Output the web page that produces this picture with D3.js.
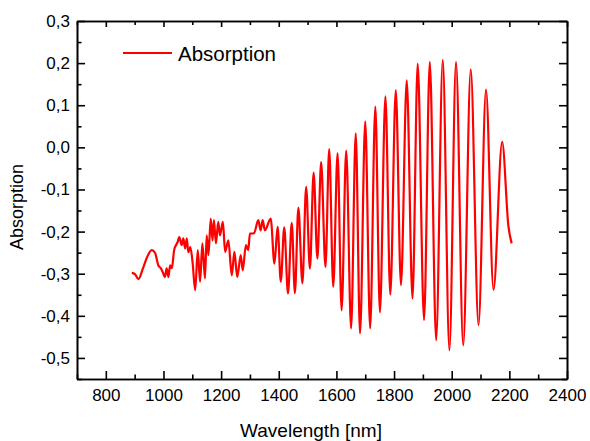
<!DOCTYPE html>
<html>
<head>
<meta charset="utf-8">
<script src="https://cdn.jsdelivr.net/npm/d3@7"></script>
<style>
    body { margin: 0; background: #fff; }
    text { font-family: "Liberation Sans", Arial, sans-serif; fill: #000; }
    .axis path, .axis line { stroke: #000; stroke-width: 1.6; }
    .axis text { font-size: 17px; }
    .axisTitle { font-size: 18px; }
    .xTitle { font-size: 19px; }
    .legendText { font-size: 20.5px; }
</style>
</head>
<body>
<div id="chart"></div>
<script>

// values (wavelength in nm, absorption)
var wavelength = [890, 901, 913, 929, 943, 959, 971, 982, 991, 999, 1005, 1011, 1017, 1023, 1029, 1037,
    1049, 1055, 1063, 1069, 1075, 1081, 1086, 1093, 1101, 1110, 1119, 1127, 1135, 1144, 1150, 1156,
    1164, 1170, 1175, 1182, 1190, 1196, 1206, 1214, 1225, 1237, 1246, 1256, 1268, 1275, 1286, 1294,
    1300, 1314, 1329, 1337, 1344, 1352, 1372, 1385, 1396, 1407, 1419, 1432, 1445, 1456, 1468, 1482,
    1495, 1508, 1521, 1534, 1547, 1562, 1575, 1589, 1604, 1618, 1634, 1651, 1667, 1682, 1700, 1717,
    1735, 1751, 1770, 1787, 1806, 1824, 1844, 1864, 1882, 1904, 1924, 1946, 1969, 1992, 2015, 2040,
    2066, 2093, 2119, 2145, 2175, 2197, 2208];

var absorption = [-0.298, -0.301, -0.313, -0.287, -0.261, -0.244, -0.251, -0.280, -0.287, -0.299, -0.308, -0.287, -0.308, -0.280, -0.287, -0.244,
    -0.225, -0.213, -0.232, -0.216, -0.240, -0.216, -0.249, -0.237, -0.273, -0.339, -0.244, -0.319, -0.228, -0.311, -0.209, -0.256,
    -0.169, -0.221, -0.173, -0.228, -0.177, -0.209, -0.177, -0.248, -0.221, -0.304, -0.248, -0.308, -0.256, -0.292, -0.232, -0.244,
    -0.205, -0.204, -0.173, -0.197, -0.173, -0.197, -0.169, -0.276, -0.189, -0.319, -0.190, -0.347, -0.179, -0.346, -0.143, -0.323,
    -0.094, -0.288, -0.060, -0.264, -0.035, -0.284, -0.004, -0.331, -0.014, -0.387, -0.008, -0.430, 0.033, -0.442, 0.062, -0.430,
    0.097, -0.392, 0.121, -0.350, 0.136, -0.327, 0.159, -0.359, 0.199, -0.410, 0.203, -0.458, 0.208, -0.482, 0.203, -0.470,
    0.185, -0.422, 0.137, -0.338, 0.013, -0.189, -0.228];

var xMajorTicks = [800, 1000, 1200, 1400, 1600, 1800, 2000, 2200, 2400];
var xMinorTicks = [700, 900, 1100, 1300, 1500, 1700, 1900, 2100, 2300];
var yMajorTicks = [-0.5, -0.4, -0.3, -0.2, -0.1, 0.0, 0.1, 0.2, 0.3];
var yMinorTicks = [-0.55, -0.45, -0.35, -0.25, -0.15, -0.05, 0.05, 0.15, 0.25];
var yTickLabels = ["-0,5", "-0,4", "-0,3", "-0,2", "-0,1", "0,0", "0,1", "0,2", "0,3"];

/**
 * Constructor for the absorption spectrum chart
 */
function AbsorptionChart(){
    var self = this;
    self.init();
}

/**
 * Sets up the svg and the scales
 */
AbsorptionChart.prototype.init = function(){
    var self = this;
    self.margin = {top: 21, right: 23, bottom: 62, left: 77};
    self.svgWidth = 590;
    self.svgHeight = 441;
    self.width = self.svgWidth - self.margin.left - self.margin.right;
    self.height = self.svgHeight - self.margin.top - self.margin.bottom;

    self.svg = d3.select("#chart").append("svg")
        .attr("width", self.svgWidth)
        .attr("height", self.svgHeight);

    self.xScale = d3.scaleLinear()
        .domain([700, 2400])
        .range([0, self.width]);

    self.yScale = d3.scaleLinear()
        .domain([-0.55, 0.3])
        .range([self.height, 0]);

    self.g = self.svg.append("g")
        .attr("transform", "translate(" + self.margin.left + "," + self.margin.top + ")");
};

/**
 * Draws the frame, ticks, curve and legend
 */
AbsorptionChart.prototype.update = function(){
    var self = this;
    var g = self.g;

    var data = wavelength.map(function(w, i){
        return {x: w, y: absorption[i]};
    });

    //minor ticks first, all pointing inside
    g.append("g").attr("class", "axis")
        .attr("transform", "translate(0," + self.height + ")")
        .call(d3.axisBottom(self.xScale).tickValues(xMinorTicks).tickSize(-4.5).tickSizeOuter(0).tickFormat(""));
    g.append("g").attr("class", "axis")
        .call(d3.axisTop(self.xScale).tickValues(xMinorTicks).tickSize(-4).tickSizeOuter(0).tickFormat(""));
    g.append("g").attr("class", "axis")
        .call(d3.axisLeft(self.yScale).tickValues(yMinorTicks).tickSize(-4.5).tickSizeOuter(0).tickFormat(""));
    g.append("g").attr("class", "axis")
        .attr("transform", "translate(" + self.width + ",0)")
        .call(d3.axisRight(self.yScale).tickValues(yMinorTicks).tickSize(-5).tickSizeOuter(0).tickFormat(""));

    //major ticks with labels
    g.append("g").attr("class", "axis")
        .attr("transform", "translate(0," + self.height + ")")
        .call(d3.axisBottom(self.xScale).tickValues(xMajorTicks).tickSize(-8).tickSizeOuter(0).tickPadding(10)
            .tickFormat(function(d){ return "" + d; }));
    g.append("g").attr("class", "axis")
        .call(d3.axisTop(self.xScale).tickValues(xMajorTicks).tickSize(-6).tickSizeOuter(0).tickFormat(""));
    g.append("g").attr("class", "axis")
        .call(d3.axisLeft(self.yScale).tickValues(yMajorTicks).tickSize(-8).tickSizeOuter(0).tickPadding(7)
            .tickFormat(function(d, i){ return yTickLabels[i]; }));
    g.append("g").attr("class", "axis")
        .attr("transform", "translate(" + self.width + ",0)")
        .call(d3.axisRight(self.yScale).tickValues(yMajorTicks).tickSize(-8).tickSizeOuter(0).tickFormat(""));

    var line = d3.line()
        .x(function(d){ return self.xScale(d.x); })
        .y(function(d){ return self.yScale(d.y); })
        .curve(d3.curveMonotoneX);

    g.append("path")
        .datum(data)
        .attr("d", line)
        .attr("fill", "none")
        .attr("stroke", "#ff0000")
        .attr("stroke-width", 2.2)
        .attr("stroke-linejoin", "round");

    //legend
    self.svg.append("line")
        .attr("x1", 123).attr("x2", 172)
        .attr("y1", 53).attr("y2", 53)
        .attr("stroke", "#ff0000")
        .attr("stroke-width", 2);
    self.svg.append("text")
        .attr("class", "legendText")
        .attr("x", 178)
        .attr("y", 61)
        .text("Absorption");

    //axis titles
    self.svg.append("text")
        .attr("class", "xTitle")
        .attr("text-anchor", "middle")
        .attr("x", 311)
        .attr("y", 437)
        .text("Wavelength [nm]");
    self.svg.append("text")
        .attr("class", "axisTitle")
        .attr("text-anchor", "middle")
        .attr("transform", "translate(23," + 207 + ") rotate(-90)")
        .text("Absorption");
};

var chart = new AbsorptionChart();
chart.update();

</script>
</body>
</html>
